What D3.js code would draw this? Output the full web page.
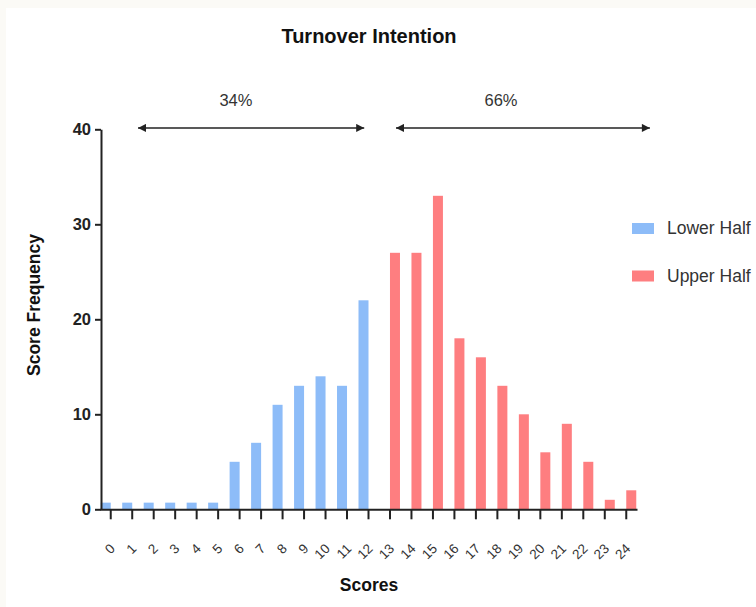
<!DOCTYPE html>
<html>
<head>
<meta charset="utf-8">
<script src="https://cdn.jsdelivr.net/npm/d3@7"></script>
<style>
  html, body { margin: 0; padding: 0; background: #fbfaf6; }
  svg { display: block; }
  text { font-family: "Liberation Sans", Arial, sans-serif; }
</style>
</head>
<body>
<svg id="chart" width="756" height="607"></svg>
<script>
// ---- data ----
const scores = ["0","1","2","3","4","5","6","7","8","9","10","11","12",
                "13","14","15","16","17","18","19","20","21","22","23","24"];
const lowerHalf = [0.7,0.7,0.7,0.7,0.7,0.7,5,7,11,13,14,13,22,0,0,0,0,0,0,0,0,0,0,0,0];
const upperHalf = [0,0,0,0,0,0,0,0,0,0,0,0,0,27,27,33,18,16,13,10,6,9,5,1,2];
const seriesNames = ["Lower Half", "Upper Half"];
const seriesColors = ["#8dbcf8", "#fe7e80"];
const yTicks = [0, 10, 20, 30, 40];
const spans = [
  { label: "34%", from: 1.27, to: 11.8, labelAt: 5.83 },
  { label: "66%", from: 13.28, to: 25.1, labelAt: 18.17 }
];
const title = "Turnover Intention";
const xTitle = "Scores";
const yTitle = "Score Frequency";

// ---- layout ----
const svg = d3.select("#chart");
svg.append("rect").attr("x", 6).attr("y", 8).attr("width", 750).attr("height", 599).attr("fill", "#ffffff");

const x0 = 100, x1 = 637, yBase = 509.3, yTop = 129.3;
const x = d3.scaleBand().domain(scores).range([x0, x1]).padding(0);
const xl = d3.scaleLinear().domain([-0.5, 24.5]).range([x0, x1]);
const barW = 10;
const xSub = d3.scaleBand().domain(seriesNames)
  .range([x.bandwidth() / 2 - barW, x.bandwidth() / 2 + barW]).padding(0);
const y = d3.scaleLinear().domain([0, 40]).range([yBase, yTop]);

// bars
const rows = scores.map((s, i) => ({ score: s, values: [lowerHalf[i], upperHalf[i]] }));
const g = svg.append("g");
rows.forEach(r => {
  r.values.forEach((v, k) => {
    if (v <= 0) return;
    g.append("rect")
      .attr("x", x(r.score) + xSub(seriesNames[k]))
      .attr("y", y(v))
      .attr("width", xSub.bandwidth())
      .attr("height", y(0) - y(v))
      .attr("fill", seriesColors[k]);
  });
});

// y axis
const yAxis = svg.append("g").attr("transform", `translate(${x0 + 1},0)`)
  .call(d3.axisLeft(y).tickValues(yTicks).tickSize(6).tickPadding(4).tickSizeOuter(0));
yAxis.select(".domain").attr("stroke", "#222").attr("stroke-width", 2);
yAxis.selectAll(".tick line").attr("stroke", "#222").attr("stroke-width", 2);
yAxis.selectAll(".tick text").attr("font-size", 16.5).attr("font-weight", "bold")
  .attr("fill", "#222").attr("font-family", "Liberation Sans, Arial, sans-serif");

// x axis
const xAxis = svg.append("g").attr("transform", `translate(0,${yBase})`)
  .call(d3.axisBottom(x).tickSize(10).tickSizeOuter(0).tickFormat(""));
xAxis.select(".domain").attr("stroke", "#222").attr("stroke-width", 2);
xAxis.selectAll(".tick line").attr("stroke", "#222").attr("stroke-width", 2);
xAxis.selectAll(".tick").each(function(d) {
  d3.select(this).append("text")
    .attr("transform", "translate(2,37) rotate(-45)")
    .attr("text-anchor", "end")
    .attr("dominant-baseline", "central")
    .attr("font-size", 13.5)
    .attr("fill", "#333")
    .attr("font-family", "Liberation Sans, Arial, sans-serif")
    .text(d);
});

// titles
svg.append("text").attr("x", 369).attr("y", 43).attr("text-anchor", "middle")
  .attr("font-size", 20).attr("font-weight", "bold").attr("fill", "#111").text(title);
svg.append("text").attr("x", 369).attr("y", 591).attr("text-anchor", "middle")
  .attr("font-size", 17.5).attr("font-weight", "bold").attr("fill", "#111").text(xTitle);
svg.append("text").attr("transform", "translate(40,305) rotate(-90)").attr("text-anchor", "middle")
  .attr("font-size", 17.5).attr("font-weight", "bold").attr("fill", "#111").text(yTitle);

// span arrows
const defs = svg.append("defs");
defs.append("marker").attr("id", "ah").attr("viewBox", "0 0 10 10")
  .attr("refX", 10).attr("refY", 5).attr("markerWidth", 10).attr("markerHeight", 8)
  .attr("markerUnits", "userSpaceOnUse").attr("orient", "auto-start-reverse")
  .append("path").attr("d", "M0,0 L10,5 L0,10 Z").attr("fill", "#222");
spans.forEach(s => {
  svg.append("line")
    .attr("x1", xl(s.from)).attr("x2", xl(s.to))
    .attr("y1", y(40.15)).attr("y2", y(40.15))
    .attr("stroke", "#222").attr("stroke-width", 1.5)
    .attr("marker-start", "url(#ah)").attr("marker-end", "url(#ah)");
  svg.append("text").attr("x", xl(s.labelAt)).attr("y", 106).attr("text-anchor", "middle")
    .attr("font-size", 16.5).attr("fill", "#333").text(s.label);
});

// legend
const leg = svg.append("g");
seriesNames.forEach((n, i) => {
  leg.append("rect").attr("x", 632).attr("y", 223 + i * 47.5).attr("width", 22).attr("height", 11)
    .attr("fill", seriesColors[i]);
  leg.append("text").attr("x", 667).attr("y", 234 + i * 47.5)
    .attr("font-size", 17.5).attr("fill", "#333").text(n);
});
</script>
</body>
</html>
